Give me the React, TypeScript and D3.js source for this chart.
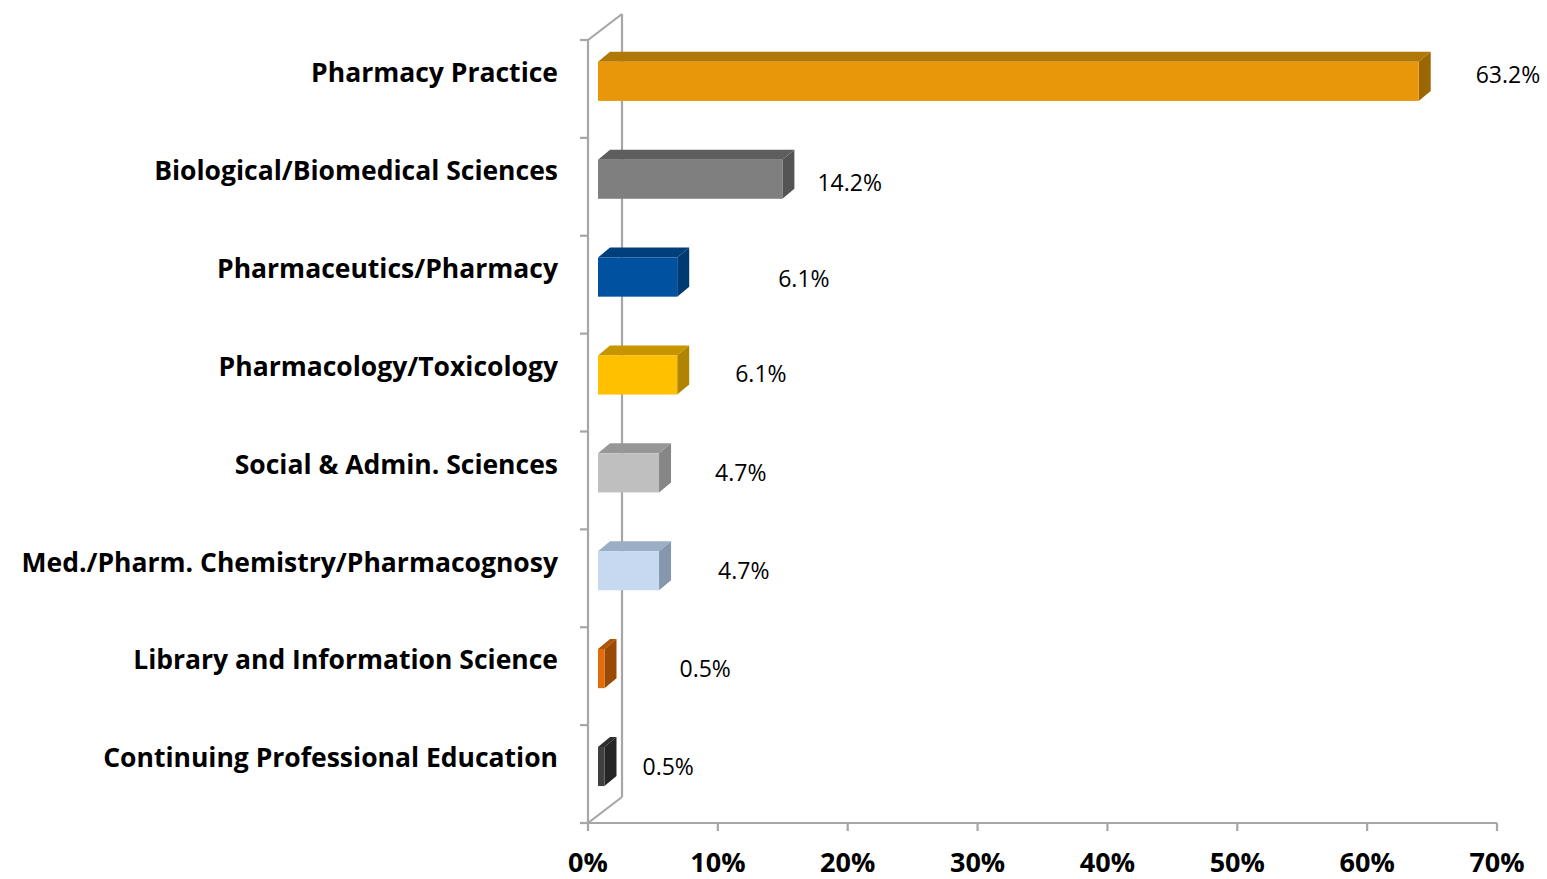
import React from "react";
import * as d3 from "d3";

const categories = [
  "Pharmacy Practice",
  "Biological/Biomedical Sciences",
  "Pharmaceutics/Pharmacy",
  "Pharmacology/Toxicology",
  "Social & Admin. Sciences",
  "Med./Pharm. Chemistry/Pharmacognosy",
  "Library and Information Science",
  "Continuing Professional Education",
];
const values = [63.2, 14.2, 6.1, 6.1, 4.7, 4.7, 0.5, 0.5];
const valueLabels = ["63.2%", "14.2%", "6.1%", "6.1%", "4.7%", "4.7%", "0.5%", "0.5%"];
const xTicks = [0, 10, 20, 30, 40, 50, 60, 70];
const xTickLabels = ["0%", "10%", "20%", "30%", "40%", "50%", "60%", "70%"];

// colours: front, top, side
const frontColors = ["#E8970A", "#7F7F7F", "#0052A0", "#FFC000", "#BFBFBF", "#C6D9F1", "#E36C0A", "#404040"];
const topColors = ["#B07806", "#5E5E5E", "#003E7C", "#C79500", "#979797", "#9CAEC6", "#B05408", "#2E2E2E"];
const sideColors = ["#9C6600", "#545454", "#003A72", "#B08400", "#868686", "#8697AD", "#9A4A06", "#262626"];

// manual label nudges (layout, as in the original)
const labelNudgeX = [45, 23, 89, 46, 44, 47, 63, 26];
const labelNudgeY = [-6, 4, 2, -1, 0, 0, 0, 0];

const W = 1547;
const H = 879;
const FONT = "'Open Sans', Lato, sans-serif";

export default function App() {
  const left = 588;
  const right = 1497;
  const top = 40;
  const bottom = 823;
  const wallDx = 34;
  const wallDy = -26;
  const barOx = 10;
  const barOy = -7.6;
  const depthDx = 12;
  const depthDy = -10;

  const x = d3.scaleLinear().domain([0, 70]).range([left, right]);
  const y = d3.scaleBand<string>().domain(categories).range([top, bottom]).paddingInner(0).paddingOuter(0);
  const bw = y.bandwidth();
  const barH = bw * 0.4;

  const gridColor = "#A6A6A6";

  return (
    <svg width={W} height={H} style={{ position: "absolute", left: 0, top: 0, background: "#fff" }}>
      {/* wall */}
      <g stroke={gridColor} strokeWidth={2.2} fill="none">
        <line x1={left} y1={top} x2={left} y2={bottom} />
        <line x1={left + wallDx} y1={top + wallDy} x2={left + wallDx} y2={bottom + wallDy} />
        <line x1={left} y1={top} x2={left + wallDx} y2={top + wallDy} />
        <line x1={left} y1={bottom} x2={left + wallDx} y2={bottom + wallDy} />
        <line x1={left} y1={bottom} x2={right} y2={bottom} />
        {d3.range(categories.length + 1).map((i) => {
          const yy = top + i * bw;
          return <line key={"yt" + i} x1={left - 8} y1={yy} x2={left} y2={yy} />;
        })}
        {xTicks.map((t) => (
          <line key={"xt" + t} x1={x(t)} y1={bottom} x2={x(t)} y2={bottom + 8} />
        ))}
      </g>

      {/* bars */}
      {categories.map((c, i) => {
        const v = values[i];
        const cy = (y(c) as number) + bw / 2 + barOy;
        const y0 = cy - barH / 2;
        const y1 = cy + barH / 2;
        const x0 = x(0) + barOx;
        const x1 = x(v) + barOx;
        const topPts = [
          [x0, y0],
          [x0 + depthDx, y0 + depthDy],
          [x1 + depthDx, y0 + depthDy],
          [x1, y0],
        ];
        const sidePts = [
          [x1, y0],
          [x1 + depthDx, y0 + depthDy],
          [x1 + depthDx, y1 + depthDy],
          [x1, y1],
        ];
        return (
          <g key={c}>
            <polygon points={topPts.map((p) => p.join(",")).join(" ")} fill={topColors[i]} />
            <polygon points={sidePts.map((p) => p.join(",")).join(" ")} fill={sideColors[i]} />
            <rect x={x0} y={y0} width={x1 - x0} height={y1 - y0} fill={frontColors[i]} />
            <text
              x={x1 + depthDx + labelNudgeX[i]}
              y={cy + labelNudgeY[i]}
              dy="0.35em"
              fontFamily={FONT}
              fontSize={23}
              fill="#000"
            >
              {valueLabels[i]}
            </text>
          </g>
        );
      })}

      {/* category labels */}
      {categories.map((c) => (
        <text
          key={"l" + c}
          x={558}
          y={(y(c) as number) + bw / 2 - 16}
          dy="0.35em"
          textAnchor="end"
          fontFamily={FONT}
          fontWeight="bold"
          fontSize={26.5}
          fill="#000"
        >
          {c}
        </text>
      ))}

      {/* x tick labels */}
      {xTicks.map((t, i) => (
        <text
          key={"xl" + t}
          x={x(t)}
          y={863}
          dy="0.35em"
          textAnchor="middle"
          fontFamily={FONT}
          fontWeight="bold"
          fontSize={27}
          fill="#000"
        >
          {xTickLabels[i]}
        </text>
      ))}
    </svg>
  );
}
